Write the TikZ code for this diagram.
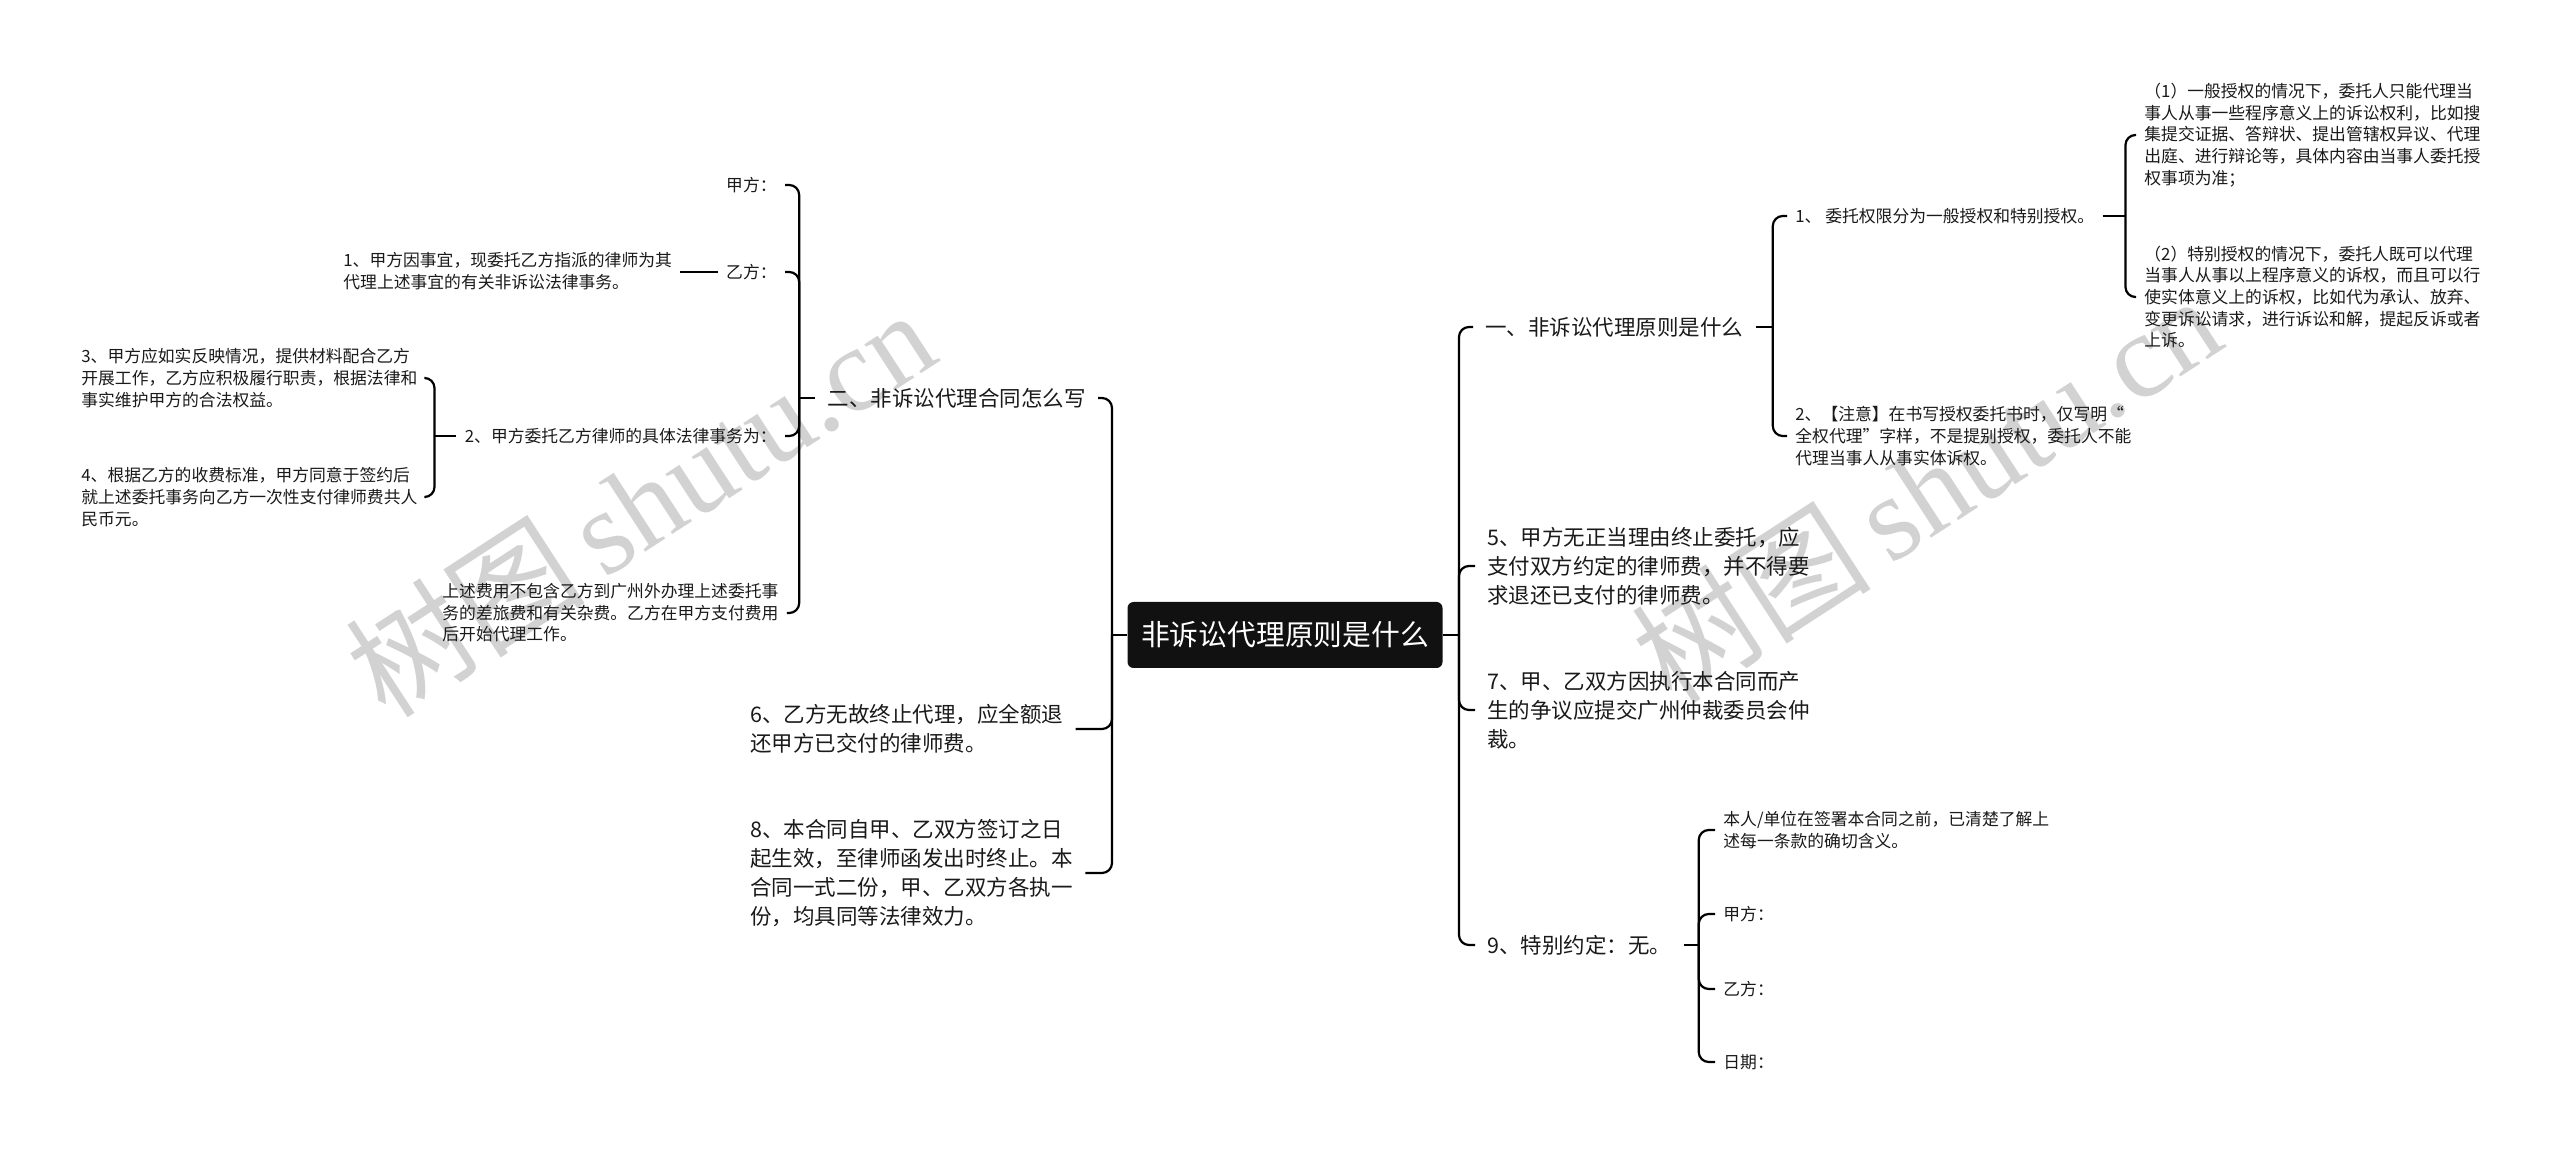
\documentclass[tikz,border=0pt]{standalone}
\usepackage{fontspec}
\newfontfamily\cjk{Noto Sans CJK SC}
\newfontfamily\wmlatin{Liberation Serif}
\definecolor{txt}{HTML}{1A1A1A}
\definecolor{rootfill}{HTML}{111111}
\definecolor{wmgray}{HTML}{D2D2D2}
\tikzset{
  conn/.style={draw=black, line width=1.1pt, rounded corners=5pt},
  big/.style={font=\cjk\fontsize{10.75}{14.5}\selectfont, align=left, inner xsep=6pt, inner ysep=2pt, text=txt},
  small/.style={font=\cjk\fontsize{8.4}{10.8}\selectfont, align=left, inner xsep=4pt, inner ysep=2pt, text=txt},
  rootbox/.style={fill=rootfill, text=white, rounded corners=3pt, minimum width=157.5pt, minimum height=33pt, inner sep=0pt, font=\cjk\fontsize{14.4}{17}\selectfont},
  wm/.style={text=wmgray, inner sep=0pt, font=\fontsize{60}{60}\selectfont}
}
\begin{document}
\begin{tikzpicture}[x=0.5pt,y=-0.5pt]
\useasboundingbox (0,0) rectangle (2560,1154);
\fill[white] (0,0) rectangle (2560,1154);

% watermarks
\node[wm, rotate=33] (wm1) at (640,502) {\cjk 树图\,{\wmlatin shutu.cn}};
\node[wm, rotate=33] (wm2) at (1926,488) {\cjk 树图\,{\wmlatin shutu.cn}};

% root
\node[rootbox] (root) at (1285,635) {非诉讼代理原则是什么};

% left level 1
\node[big, anchor=east] (A) at (1098,398) {二、非诉讼代理合同怎么写};
\node[big, anchor=west] (B) at (738,729) {6、乙方无故终止代理，应全额退\\还甲方已交付的律师费。};
\node[big, anchor=west] (C) at (738,873) {8、本合同自甲、乙双方签订之日\\起生效，至律师函发出时终止。本\\合同一式二份，甲、乙双方各执一\\份，均具同等法律效力。};

% A children
\node[small, anchor=east] (A1) at (785,185) {甲方：};
\node[small, anchor=east] (A2) at (785,272) {乙方：};
\node[small, anchor=west] (A2a) at (335,271) {1、甲方因事宜，现委托乙方指派的律师为其\\代理上述事宜的有关非诉讼法律事务。};
\node[small, anchor=east] (A3) at (785,436) {2、甲方委托乙方律师的具体法律事务为：};
\node[small, anchor=west] (A3a) at (73,378) {3、甲方应如实反映情况，提供材料配合乙方\\开展工作，乙方应积极履行职责，根据法律和\\事实维护甲方的合法权益。};
\node[small, anchor=west] (A3b) at (73,497) {4、根据乙方的收费标准，甲方同意于签约后\\就上述委托事务向乙方一次性支付律师费共人\\民币元。};
\node[small, anchor=west] (A4) at (434,613) {上述费用不包含乙方到广州外办理上述委托事\\务的差旅费和有关杂费。乙方在甲方支付费用\\后开始代理工作。};

% right level 1
\node[big, anchor=west] (D) at (1473,327) {一、非诉讼代理原则是什么};
\node[big, anchor=west] (E) at (1475,566) {5、甲方无正当理由终止委托，应\\支付双方约定的律师费，并不得要\\求退还已支付的律师费。};
\node[big, anchor=west] (F) at (1475,710) {7、甲、乙双方因执行本合同而产\\生的争议应提交广州仲裁委员会仲\\裁。};
\node[big, anchor=west] (G) at (1475,945) {9、特别约定：无。};

% D children
\node[small, anchor=west] (D1) at (1787,216) {1、 委托权限分为一般授权和特别授权。};
\node[small, anchor=west] (D2) at (1787,436) {2、【注意】在书写授权委托书时，仅写明“\\全权代理”字样，不是提别授权，委托人不能\\代理当事人从事实体诉权。};
\node[small, anchor=west] (D1a) at (2136,135) {（1）一般授权的情况下，委托人只能代理当\\事人从事一些程序意义上的诉讼权利，比如搜\\集提交证据、答辩状、提出管辖权异议、代理\\出庭、进行辩论等，具体内容由当事人委托授\\权事项为准；};
\node[small, anchor=west] (D1b) at (2136,297) {（2）特别授权的情况下，委托人既可以代理\\当事人从事以上程序意义的诉权，而且可以行\\使实体意义上的诉权，比如代为承认、放弃、\\变更诉讼请求，进行诉讼和解，提起反诉或者\\上诉。};

% G children
\node[small, anchor=west] (G1) at (1715,830) {本人/单位在签署本合同之前，已清楚了解上\\述每一条款的确切含义。};
\node[small, anchor=west] (G2) at (1715,914) {甲方：};
\node[small, anchor=west] (G3) at (1715,989) {乙方：};
\node[small, anchor=west] (G4) at (1715,1062) {日期：};

% trunks
\coordinate (LT) at (1112,635);
\coordinate (RT) at (1459,635);
\draw[conn] (root.west) -- (LT);
\draw[conn] (root.east) -- (RT);
\foreach \n in {A,B,C} \draw[conn] (LT) |- (\n.east);
\foreach \n in {D,E,F,G} \draw[conn] (RT) |- (\n.west);

% A bracket
\draw[conn] (A.west) -- ++(-16,0) coordinate (bA);
\foreach \n in {A1,A2,A3,A4} \draw[conn] (bA) |- (\n.east);
\draw[conn] (A2.west) -- (A2.west -| A2a.east);
\draw[conn] (A3.west) -- ++(-22,0) coordinate (bA3);
\foreach \n in {A3a,A3b} \draw[conn] (bA3) |- (\n.east);

% D bracket
\draw[conn] (D.east) -- ++(17,0) coordinate (bD);
\foreach \n in {D1,D2} \draw[conn] (bD) |- (\n.west);
\draw[conn] (D1.east) -- ++(23,0) coordinate (bD1);
\foreach \n in {D1a,D1b} \draw[conn] (bD1) |- (\n.west);

% G bracket
\draw[conn] (G.east) -- ++(15,0) coordinate (bG);
\foreach \n in {G1,G2,G3,G4} \draw[conn] (bG) |- (\n.west);
\end{tikzpicture}
\end{document}
